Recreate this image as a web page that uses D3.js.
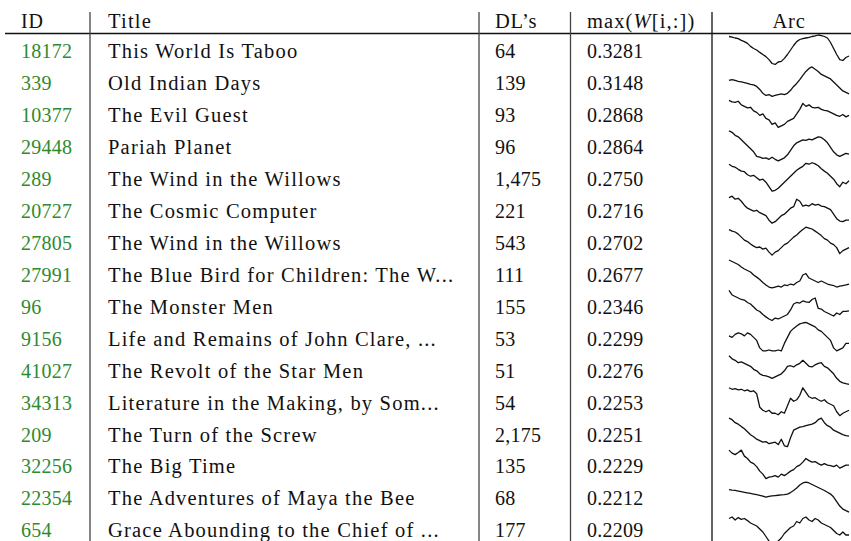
<!DOCTYPE html>
<html>
<head>
<meta charset="utf-8">
<script src="https://cdn.jsdelivr.net/npm/d3@7"></script>
<style>
  html, body { margin: 0; padding: 0; background: #fff; }
  svg { display: block; }
  text { font-family: "Liberation Serif", "Times New Roman", serif; fill: #111; }
</style>
</head>
<body>
<div id="chart"></div>
<script>
// Table data
var ids = ['18172', '339', '10377', '29448', '289', '20727', '27805', '27991',
           '96', '9156', '41027', '34313', '209', '32256', '22354', '654'];

var titles = [
  'This World Is Taboo', 'Old Indian Days', 'The Evil Guest', 'Pariah Planet',
  'The Wind in the Willows', 'The Cosmic Computer', 'The Wind in the Willows',
  'The Blue Bird for Children: The W...', 'The Monster Men',
  'Life and Remains of John Clare, ...', 'The Revolt of the Star Men',
  'Literature in the Making, by Som...', 'The Turn of the Screw', 'The Big Time',
  'The Adventures of Maya the Bee', 'Grace Abounding to the Chief of ...'
];

var downloads = [64, 139, 93, 96, 1475, 221, 543, 111, 155, 53, 51, 54, 2175, 135, 68, 177];

var maxW = [0.3281, 0.3148, 0.2868, 0.2864, 0.2750, 0.2716, 0.2702, 0.2677,
            0.2346, 0.2299, 0.2276, 0.2253, 0.2251, 0.2229, 0.2212, 0.2209];

// Emotional arcs (normalised 0..1)
var arcs = [
  [0.95,0.93,0.9,0.88,0.82,0.78,0.72,0.62,0.55,0.5,0.42,0.35,0.28,0.18,0.05,0.02,0.1,0.12,0.22,0.35,0.5,0.65,0.78,0.85,0.88,0.9,0.92,0.95,0.97,1.0,0.98,0.95,0.9,0.75,0.55,0.35,0.18,0.15,0.25,0.3],
  [0.55,0.58,0.55,0.52,0.5,0.48,0.45,0.42,0.4,0.35,0.25,0.12,0.05,0.08,0.02,0.05,0.08,0.1,0.08,0.12,0.22,0.35,0.45,0.58,0.72,0.85,0.95,1.0,0.92,0.85,0.75,0.7,0.65,0.6,0.5,0.4,0.3,0.2,0.15,0.1],
  [0.95,0.9,0.88,0.92,0.8,0.75,0.7,0.72,0.6,0.55,0.45,0.5,0.35,0.3,0.15,0.2,0.05,0.1,0.15,0.25,0.3,0.35,0.5,0.65,0.85,0.75,0.8,0.72,0.7,0.72,0.65,0.62,0.6,0.55,0.5,0.45,0.42,0.48,0.4,0.45],
  [1.0,0.95,0.85,0.8,0.7,0.6,0.5,0.4,0.3,0.15,0.12,0.08,0.1,0.05,0.12,0.05,0.0,0.05,0.1,0.2,0.35,0.5,0.6,0.65,0.7,0.68,0.72,0.7,0.75,0.8,0.78,0.7,0.6,0.45,0.3,0.2,0.15,0.2,0.25,0.22],
  [0.95,0.88,0.85,0.78,0.72,0.7,0.6,0.55,0.58,0.5,0.42,0.45,0.35,0.2,0.05,0.08,0.15,0.25,0.35,0.45,0.55,0.65,0.75,0.82,0.88,0.98,0.95,1.0,0.96,0.9,0.8,0.72,0.65,0.55,0.45,0.3,0.2,0.35,0.3,0.4],
  [0.9,0.95,0.85,0.88,0.78,0.65,0.55,0.5,0.45,0.48,0.4,0.35,0.3,0.15,0.05,0.1,0.2,0.3,0.35,0.45,0.55,0.6,0.85,0.78,0.62,0.65,0.62,0.7,0.65,0.68,0.62,0.6,0.55,0.5,0.35,0.2,0.12,0.1,0.15,0.15],
  [0.9,0.85,0.82,0.75,0.65,0.55,0.5,0.42,0.35,0.3,0.32,0.25,0.28,0.15,0.05,0.15,0.2,0.3,0.4,0.45,0.55,0.65,0.72,0.82,0.9,0.98,0.95,0.92,0.85,0.78,0.7,0.6,0.55,0.45,0.4,0.3,0.1,0.2,0.25,0.3],
  [0.95,0.9,0.85,0.8,0.72,0.65,0.6,0.55,0.45,0.38,0.3,0.2,0.12,0.05,0.02,0.05,0.08,0.05,0.12,0.1,0.15,0.12,0.2,0.25,0.45,0.5,0.35,0.3,0.25,0.2,0.25,0.2,0.15,0.12,0.1,0.05,0.08,0.1,0.12,0.15],
  [1.0,0.85,0.8,0.75,0.7,0.68,0.6,0.55,0.45,0.35,0.3,0.2,0.12,0.05,0.0,0.08,0.05,0.1,0.15,0.2,0.35,0.55,0.6,0.58,0.65,0.62,0.6,0.7,0.75,0.4,0.38,0.3,0.25,0.2,0.15,0.25,0.2,0.3,0.3,0.32],
  [0.55,0.5,0.6,0.65,0.62,0.55,0.65,0.6,0.5,0.4,0.15,0.05,0.05,0.08,0.05,0.05,0.08,0.05,0.3,0.5,0.7,0.8,0.88,0.95,0.98,1.0,0.95,0.9,0.85,0.75,0.7,0.6,0.5,0.4,0.15,0.05,0.1,0.15,0.3,0.3],
  [0.95,0.85,0.8,0.72,0.75,0.7,0.65,0.6,0.5,0.45,0.35,0.3,0.28,0.25,0.2,0.25,0.3,0.35,0.45,0.6,0.62,0.58,0.65,0.7,0.8,0.7,0.6,0.58,0.65,0.7,0.72,0.6,0.55,0.45,0.35,0.2,0.1,0.05,0.02,0.0],
  [0.95,0.9,0.92,0.88,0.9,0.85,0.88,0.82,0.85,0.75,0.3,0.2,0.15,0.2,0.1,0.1,0.05,0.15,0.1,0.35,0.6,0.5,0.55,0.7,0.95,0.8,0.65,0.6,0.62,0.55,0.5,0.55,0.45,0.4,0.35,0.15,0.02,0.1,0.15,0.2],
  [1.0,0.95,0.85,0.8,0.72,0.65,0.55,0.45,0.38,0.3,0.25,0.2,0.22,0.15,0.18,0.2,0.12,0.3,0.08,0.05,0.35,0.6,0.65,0.7,0.72,0.75,0.78,0.8,0.85,0.95,1.0,0.85,0.75,0.7,0.6,0.55,0.5,0.45,0.42,0.4],
  [1.0,0.9,0.85,0.92,1.0,0.8,0.72,0.6,0.55,0.45,0.3,0.2,0.05,0.1,0.12,0.15,0.1,0.2,0.15,0.22,0.3,0.35,0.45,0.5,0.6,0.72,0.65,0.6,0.62,0.55,0.5,0.55,0.5,0.48,0.45,0.5,0.4,0.45,0.5,0.5],
  [0.75,0.73,0.72,0.7,0.68,0.66,0.64,0.62,0.6,0.58,0.56,0.53,0.5,0.52,0.54,0.55,0.56,0.57,0.58,0.6,0.65,0.72,0.8,0.9,0.97,1.0,0.97,0.92,0.87,0.82,0.77,0.72,0.66,0.6,0.5,0.35,0.2,0.1,0.05,0.0],
  [0.85,0.9,0.8,0.88,0.82,0.85,0.78,0.7,0.65,0.6,0.5,0.4,0.25,0.1,0.0,0.05,0.1,0.2,0.35,0.45,0.55,0.6,0.75,0.7,0.85,0.9,0.8,0.75,0.85,0.8,0.7,0.65,0.6,0.55,0.45,0.35,0.3,0.4,0.3,0.3]
];

var width = 851, height = 541;
var green = '#2f8a2f';

var svg = d3.select('#chart').append('svg')
    .attr('width', width)
    .attr('height', height);

// Row centres
var y = d3.scaleLinear().domain([0, ids.length - 1]).range([52, 531]);

// Column layout
var colX = { id: 21, title: 108, dl: 495, max: 587, arcL: 729, arcR: 849 };
var sepX = [90, 479, 570.5, 712];

// Header
var headerBase = 28;
var header = svg.append('g').attr('class', 'header');
header.append('text').attr('x', colX.id).attr('y', headerBase)
    .attr('font-size', 20).attr('letter-spacing', 0.8).text('ID');
header.append('text').attr('x', colX.title).attr('y', headerBase)
    .attr('font-size', 20.5).attr('letter-spacing', 1.2).text('Title');
header.append('text').attr('x', colX.dl).attr('y', headerBase)
    .attr('font-size', 20.5).attr('letter-spacing', 0.8).text('DL\u2019s');
var mx = header.append('text').attr('x', colX.max).attr('y', headerBase)
    .attr('font-size', 20.5).attr('letter-spacing', 1.1);
mx.append('tspan').text('max(');
mx.append('tspan').attr('font-style', 'italic').text('W');
mx.append('tspan').text('[i,:])');
header.append('text').attr('x', (colX.arcL + colX.arcR) / 2).attr('y', headerBase)
    .attr('text-anchor', 'middle').attr('font-size', 20.5).attr('letter-spacing', 0.8)
    .text('Arc');

// Rules
svg.append('line')
    .attr('x1', 5).attr('x2', width)
    .attr('y1', 33.5).attr('y2', 33.5)
    .attr('stroke', '#111').attr('stroke-width', 1.4);

svg.selectAll('.sep')
    .data(sepX)
    .join('line')
    .attr('class', 'sep')
    .attr('x1', function(d) { return d; })
    .attr('x2', function(d) { return d; })
    .attr('y1', 12).attr('y2', height)
    .attr('stroke', function(d, i) { return i === 3 ? '#111' : '#444'; })
    .attr('stroke-width', 1.3);

// Rows
var rows = svg.append('g').selectAll('.row')
    .data(ids.map(function(d, i) { return i; }))
    .join('g')
    .attr('class', 'row')
    .attr('transform', function(i) { return 'translate(0,' + (y(i) + 6.3) + ')'; });

rows.append('text')
    .attr('x', colX.id)
    .attr('font-size', 20).attr('letter-spacing', 0.25)
    .style('fill', green)
    .text(function(i) { return ids[i]; });

rows.append('text')
    .attr('x', colX.title)
    .attr('font-size', 20.5).attr('letter-spacing', 1.2)
    .text(function(i) { return titles[i]; });

rows.append('text')
    .attr('x', colX.dl)
    .attr('font-size', 20).attr('letter-spacing', 0.25)
    .text(function(i) { return d3.format(',')(downloads[i]); });

rows.append('text')
    .attr('x', colX.max)
    .attr('font-size', 20).attr('letter-spacing', 0.25)
    .text(function(i) { return d3.format('.4f')(maxW[i]); });

// Sparklines
var sx = d3.scaleLinear().domain([0, arcs[0].length - 1]).range([colX.arcL, colX.arcR]);

svg.append('g').selectAll('.arc')
    .data(arcs)
    .join('path')
    .attr('class', 'arc')
    .attr('fill', 'none')
    .attr('stroke', '#111')
    .attr('stroke-width', 1.3)
    .attr('stroke-linejoin', 'round')
    .attr('d', function(vals, i) {
        var sy = d3.scaleLinear().domain([0, 1]).range([y(i) + 13, y(i) - 17]);
        return d3.line()
            .x(function(v, j) { return sx(j); })
            .y(function(v) { return sy(v); })(vals);
    });
</script>
</body>
</html>
